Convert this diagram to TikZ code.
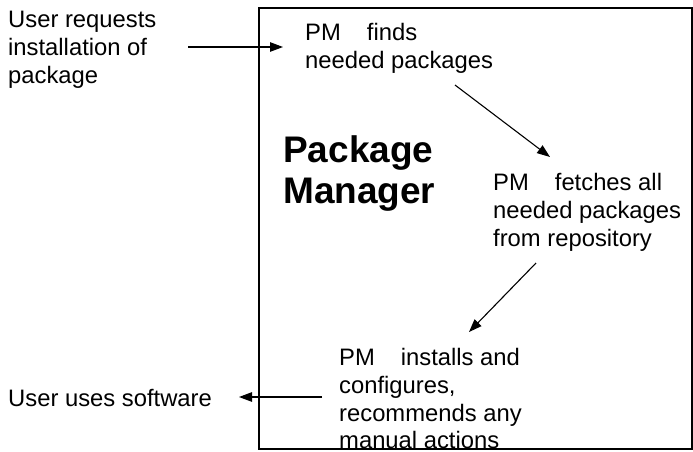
\documentclass[tikz,border=0pt]{standalone}
\usepackage{fontspec}
\setmainfont{Liberation Sans}
\usetikzlibrary{arrows.meta}

\begin{document}
\begin{tikzpicture}[x=1pt,y=-1pt,
  txt/.style={anchor=north west,inner sep=0pt,align=left,
    font=\fontsize{23.8}{27.8}\selectfont},
  title/.style={anchor=north west,inner sep=0pt,align=left,
    font=\fontsize{37}{41}\selectfont\bfseries},
  flow/.style={line width=1.1pt,-{Triangle[length=13pt,width=9.5pt]}}]
  \useasboundingbox (0,0) rectangle (693,451);

  % the package manager frame
  \draw[line width=1.6pt] (259,8) rectangle (692,449);

  \node[txt] (req) at (8,11) {User requests\\installation of\\package};
  \node[txt] (find) at (305,23) {PM\hspace{26pt}finds\\needed packages};
  \node[title] (pm) at (283,135) {Package\\Manager};
  \node[txt] (fetch) at (493,173) {PM\hspace{26pt}fetches all\\needed packages\\from repository};
  \node[txt] (inst) at (339,348) {PM\hspace{26pt}installs and\\configures,\\recommends any\\manual actions};
  \node[txt] (use) at (8,389) {User uses software};

  \coordinate (a1s) at (188,47);
  \coordinate (a1e) at (283,47);
  \coordinate (a2s) at (455,85);
  \coordinate (a2e) at (550,157);
  \coordinate (a3s) at (536,263);
  \coordinate (a3e) at (469,332);
  \coordinate (a4s) at (322,397);
  \coordinate (a4e) at (239,397);

  \draw[flow] (a1s) -- (a1e);
  \draw[flow] (a2s) -- (a2e);
  \draw[flow] (a3s) -- (a3e);
  \draw[flow] (a4s) -- (a4e);
\end{tikzpicture}
\end{document}
